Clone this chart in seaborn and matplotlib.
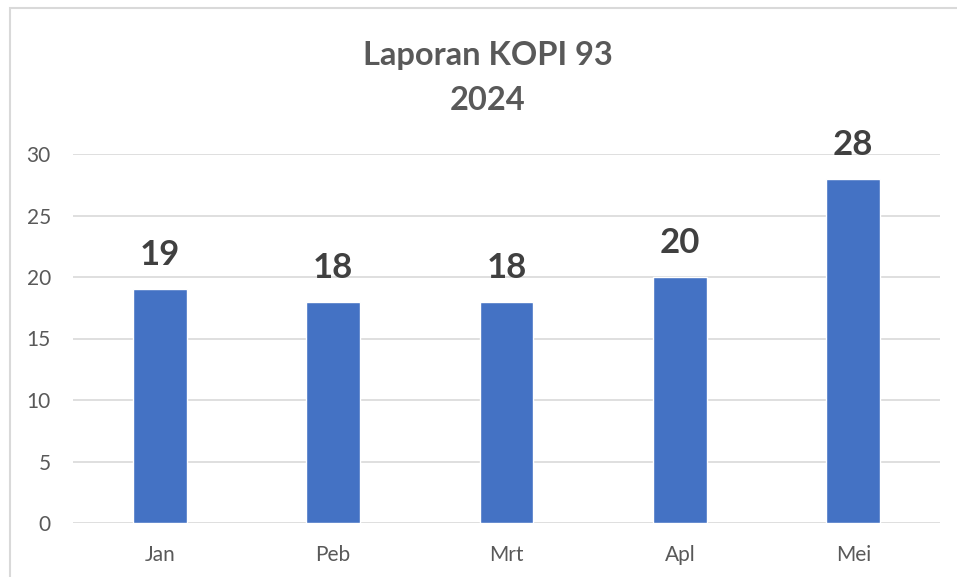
import matplotlib
matplotlib.use('Agg')
import matplotlib.pyplot as plt
import seaborn as sns
import pandas as pd
from matplotlib.patches import Rectangle

months = ['Jan', 'Peb', 'Mrt', 'Apl', 'Mei']
values = [19, 18, 18, 20, 28]
yticks = [0, 5, 10, 15, 20, 25, 30]

df = pd.DataFrame({'bulan': months, 'jumlah': values})

sns.set_theme(style='white')
plt.rcParams['font.family'] = ['Lato', 'DejaVu Sans']

fig = plt.figure(figsize=(9.57, 5.77), dpi=100)
ax = fig.add_axes([73 / 957, 1 - 523 / 577, (940 - 73) / 957, (523 - 154) / 577])

sns.barplot(data=df, x='bulan', y='jumlah', color='#4472c4', width=0.31,
            saturation=1, ax=ax, zorder=3)

ax.set_ylim(0, 30)
ax.set_xlim(-0.5, len(months) - 0.5)
ax.set_yticks(yticks)
ax.yaxis.grid(True, color='#d9d9d9', linewidth=1.2, zorder=0)
ax.xaxis.grid(False)
for s in ax.spines.values():
    s.set_visible(False)
ax.tick_params(axis='y', length=0, pad=16, labelsize=15, labelcolor='#595959')
ax.tick_params(axis='x', length=0, pad=16, labelsize=15, labelcolor='#595959')
ax.set_xlabel('')
ax.set_ylabel('')

ax.bar_label(ax.containers[0], labels=[str(v) for v in values], padding=13,
             fontsize=25, fontweight='bold', color='#404040')

fig.text(488 / 957, 1 - 55 / 577, 'Laporan KOPI 93', ha='center', va='center',
         fontsize=23.5, fontweight='bold', color='#595959')
fig.text(488 / 957, 1 - 100 / 577, '2024', ha='center', va='center',
         fontsize=23.5, fontweight='bold', color='#595959')

# chart frame
fig.patches.append(Rectangle((10 / 957, -0.1), 1.2, 1 - 8 / 577 + 0.1,
                             transform=fig.transFigure, fill=False,
                             edgecolor='#d9d9d9', linewidth=1.5))

fig.savefig('out.png', dpi=100)
plt.close()
